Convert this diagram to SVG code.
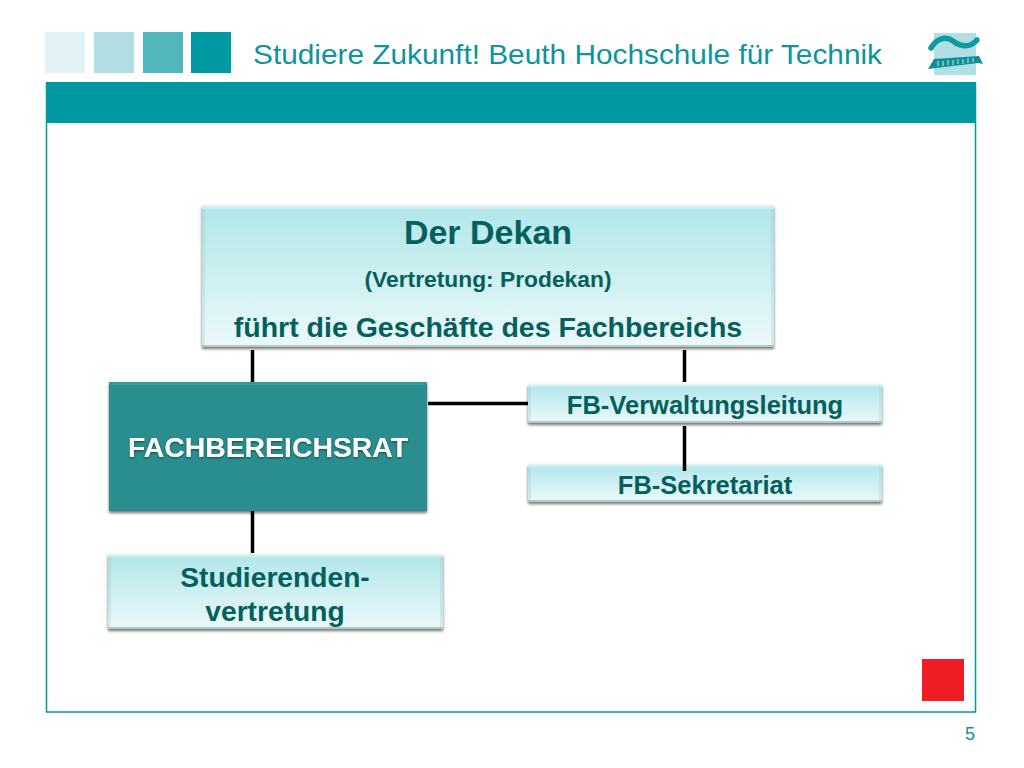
<svg xmlns="http://www.w3.org/2000/svg" width="1024" height="768" viewBox="0 0 1024 768">
<defs>
<linearGradient id="g" x1="0" y1="0" x2="0" y2="1"><stop offset="0" stop-color="#b0e6e9"/><stop offset="1" stop-color="#ecf9fa"/></linearGradient>
<linearGradient id="top" x1="0" y1="0" x2="0" y2="1"><stop offset="0" stop-color="#e6f7f8"/><stop offset="1" stop-color="#b6e7ea"/></linearGradient>
<filter id="s" x="-5%" y="-10%" width="110%" height="130%"><feDropShadow dx="0" dy="2" stdDeviation="1.400" flood-color="#000" flood-opacity=".55"/></filter>
<filter id="ts" x="-5%" y="-20%" width="110%" height="140%"><feDropShadow dx="0" dy="1" stdDeviation=".8" flood-color="#000" flood-opacity=".5"/></filter>
</defs>
<style>
text{font-family:"Liberation Sans",Arial,sans-serif}
.b{fill:url(#g);filter:url(#s)}
.e{fill:url(#top)}
.sd{fill:#8fc4c8;opacity:.25}
.bt{fill:#b4c6c8}
.t{fill:#04605c;font-weight:700;text-anchor:middle}
.c{stroke:#000;stroke-width:3.500;fill:none}
</style>
<rect width="1024" height="768" fill="#fff"/>
<g id="header">
<rect x="45" y="32" width="40" height="41" fill="#e1f3f5"/>
<rect x="94" y="32" width="40" height="41" fill="#b1dfe3"/>
<rect x="143" y="32" width="40" height="41" fill="#52b7bc"/>
<rect x="191" y="32" width="40" height="41" fill="#0098a1"/>
<text x="253" y="64" font-size="28.500" fill="#0d949c" textLength="629" lengthAdjust="spacingAndGlyphs">Studiere Zukunft! Beuth Hochschule für Technik</text>
</g>
<g id="logo">
<rect x="934" y="33" width="42" height="42" fill="#b1dfe3"/>
<path d="M931 48C937 38 946 36 953 41C961 47 970 48 977 40" fill="none" stroke="#0e9aa3" stroke-width="5.500" stroke-linecap="round"/>
<path d="M934 59L979 56L983 64L978 63L936 68L928 69Z" fill="#0e8f98"/>
<path d="M938 61V66M943 61V66M948 60V65M953 60V65M958 59V64M963 59V64M968 58V63M973 58V62" stroke="#cfe9eb" stroke-width="1"/>
</g>
<g id="frame">
<rect x="46.500" y="83" width="929" height="629" fill="#fff" stroke="#0098a1" stroke-width="1.500"/>
<rect x="46" y="82" width="930" height="41" fill="#0098a1"/>
</g>
<g id="dekan">
<rect class="b" x="202" y="205" width="572" height="142"/>
<rect class="e" x="202" y="205" width="572" height="5"/>
<rect class="sd" x="202" y="209" width="3" height="136"/><rect class="sd" x="771" y="209" width="3" height="136"/>
<rect class="bt" x="202" y="345" width="572" height="2"/>
<text class="t" x="488" y="244" font-size="34">Der Dekan</text>
<text class="t" x="488" y="287" font-size="22.800">(Vertretung: Prodekan)</text>
<text class="t" x="488" y="337" font-size="28.500">führt die Geschäfte des Fachbereichs</text>
</g>
<g id="fachbereichsrat">
<rect x="109" y="382" width="318" height="129" fill="#2a8e8e" filter="url(#s)"/>
<rect x="109" y="382" width="318" height="3" fill="#2f9b9b"/>
<text x="268" y="457" font-size="28.400" font-weight="700" fill="#fff" text-anchor="middle" filter="url(#ts)">FACHBEREICHSRAT</text>
</g>
<g id="verwaltung">
<rect class="b" x="528" y="384" width="354" height="39"/>
<rect class="e" x="528" y="384" width="354" height="4"/>
<rect class="sd" x="528" y="387" width="3" height="34"/><rect class="sd" x="879" y="387" width="3" height="34"/>
<rect class="bt" x="528" y="421" width="354" height="2"/>
<text class="t" x="705" y="414" font-size="25.500">FB-Verwaltungsleitung</text>
</g>
<g id="sekretariat">
<rect class="b" x="528" y="464" width="354" height="38"/>
<rect class="e" x="528" y="464" width="354" height="4"/>
<rect class="sd" x="528" y="467" width="3" height="33"/><rect class="sd" x="879" y="467" width="3" height="33"/>
<rect class="bt" x="528" y="500" width="354" height="2"/>
<text class="t" x="705" y="494" font-size="25.500">FB-Sekretariat</text>
</g>
<g id="studierende">
<rect class="b" x="108" y="554" width="335" height="75"/>
<rect class="e" x="108" y="554" width="335" height="4"/>
<rect class="sd" x="108" y="557" width="3" height="70"/><rect class="sd" x="440" y="557" width="3" height="70"/>
<rect class="bt" x="108" y="627" width="335" height="2"/>
<text class="t" x="275" y="587" font-size="28.200">Studierenden-</text>
<text class="t" x="275" y="621" font-size="28.200">vertretung</text>
</g>
<g id="connectors">
<path class="c" d="M252.500 350V382M252.500 511V553M428 403.500H528M684.500 350V382M684.500 426V471"/>
</g>
<rect x="922" y="659" width="42" height="42" fill="#ef1c24"/>
<text x="970" y="740" font-size="18" fill="#0d949c" text-anchor="middle">5</text>
</svg>
